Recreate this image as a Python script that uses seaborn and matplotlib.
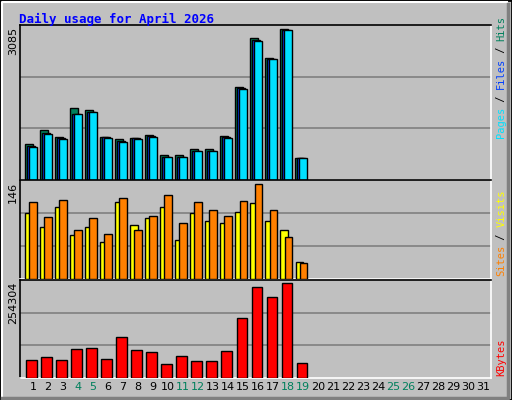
import numpy as np
import matplotlib
matplotlib.use("Agg")
import matplotlib.pyplot as plt
import matplotlib.patches as mpatches
import seaborn as sns

# daily values for April 2026 (days 1..19 have data)
days = list(range(1, 20))
hits = [740, 1019, 886, 1473, 1431, 886, 845, 865, 928, 510, 510, 642, 642, 907, 1912, 2917, 2499, 3085, 447]
files = [690, 960, 855, 1360, 1400, 875, 790, 855, 895, 475, 475, 600, 600, 875, 1880, 2865, 2485, 3070, 447]
pages = [677, 949, 845, 1347, 1389, 865, 782, 845, 886, 468, 468, 593, 593, 865, 1870, 2855, 2478, 3064, 447]
visits = [102, 81, 111, 68, 81, 57, 119, 83, 94, 111, 60, 102, 89, 86, 103, 117, 89, 75, 27]
sites = [119, 95, 122, 76, 94, 70, 125, 75, 98, 130, 86, 119, 106, 98, 121, 146, 106, 65, 24]
kbytes = [49190, 56615, 49190, 77033, 81674, 51975, 109518, 74249, 68680, 38053, 60328,
          46406, 46406, 71465, 160564, 245951, 218108, 254304, 39909]
weekend_days = [4, 5, 11, 12, 18, 19, 25, 26]

BG = "#C0C0C0"
fig = plt.figure(figsize=(5.12, 4.0), dpi=100)
fig.patch.set_facecolor(BG)

# frame bevel
fig.add_artist(mpatches.Rectangle((0, 0), 1, 1, transform=fig.transFigure, fill=False, ec="black", lw=2))
fig.add_artist(plt.Line2D([0.004, 0.004, 0.99], [0.01, 0.996, 0.996], transform=fig.transFigure, color="white", lw=1.5))
fig.add_artist(plt.Line2D([0.004, 0.993, 0.993], [0.006, 0.006, 0.99], transform=fig.transFigure, color="#808080", lw=2.5))

fig.text(0.037, 0.952, "Daily usage for April 2026", color="#0000FF", fontsize=9,
         family="DejaVu Sans Mono", fontweight="bold", va="center")

left, width = 20 / 512, 471 / 512
ax1 = fig.add_axes([left, 1 - 180 / 400, width, 155 / 400])
ax2 = fig.add_axes([left, 1 - 279 / 400, width, 99 / 400])
ax3 = fig.add_axes([left, 1 - 378 / 400, width, 98 / 400])

d = np.array(days, dtype=float)

def bars(ax, offset, vals, color, w):
    sns.barplot(x=d + offset, y=vals, native_scale=True, width=w, color=color,
                edgecolor="black", linewidth=1, saturation=1, ax=ax, zorder=3)

bars(ax1, -0.27, hits, "#00805C", 0.55)
bars(ax1, -0.13, files, "#0040FF", 0.55)
bars(ax1, 0.0, pages, "#00E0FF", 0.55)
bars(ax2, -0.27, visits, "#FFFF00", 0.5)
bars(ax2, 0.0, sites, "#FF8000", 0.5)
bars(ax3, -0.1, kbytes, "#FF0000", 0.7)

ymaxes = [3176, 152.9, 263584]
maxlabels = [str(max(hits)), str(max(sites)), str(max(kbytes))]
for ax, ym in zip([ax1, ax2, ax3], ymaxes):
    ax.set_facecolor(BG)
    ax.set_xlim(0.13, 31.5)
    ax.set_ylim(0, ym)
    for g in (ym / 3, 2 * ym / 3):
        ax.axhline(g, color="#808080", lw=1.2, zorder=1)
    ax.set_xticks([])
    ax.set_yticks([])
    ax.set_xlabel("")
    ax.set_ylabel("")
    ax.spines["top"].set_color("black")
    ax.spines["left"].set_color("black")
    ax.spines["right"].set_color("white")
    ax.spines["bottom"].set_color("white")
    for s in ax.spines.values():
        s.set_linewidth(1.2)

# max value labels on the left
for ax, lab in zip([ax1, ax2, ax3], maxlabels):
    pos = ax.get_position()
    fig.text(0.026, pos.y1 - 0.005, lab, rotation=90, ha="center", va="top", fontsize=8, color="black")

# day labels
ax3.set_xticks(range(1, 32))
ax3.set_xticklabels([str(i) for i in range(1, 32)], fontsize=8)
ax3.tick_params(axis="x", length=0, pad=3)
for t, i in zip(ax3.get_xticklabels(), range(1, 32)):
    t.set_color("#00805C" if i in weekend_days else "black")

# right side legends (bottom-to-top)
def side_label(y0, parts):
    y = y0
    for txt, col in parts:
        t = fig.text(0.979, y, txt, rotation=90, ha="center", va="bottom", color=col,
                     fontsize=7.5, family="DejaVu Sans Mono")
        y += len(txt) * 0.0152

side_label(0.655, [("Pages", "#00E0FF"), (" / ", "black"), ("Files", "#0040FF"), (" / ", "black"), ("Hits", "#00805C")])
side_label(0.31, [("Sites", "#FF8000"), (" / ", "black"), ("Visits", "#FFFF00")])
side_label(0.06, [("KBytes", "#FF0000")])

fig.savefig("out.png", dpi=100, facecolor=BG)
